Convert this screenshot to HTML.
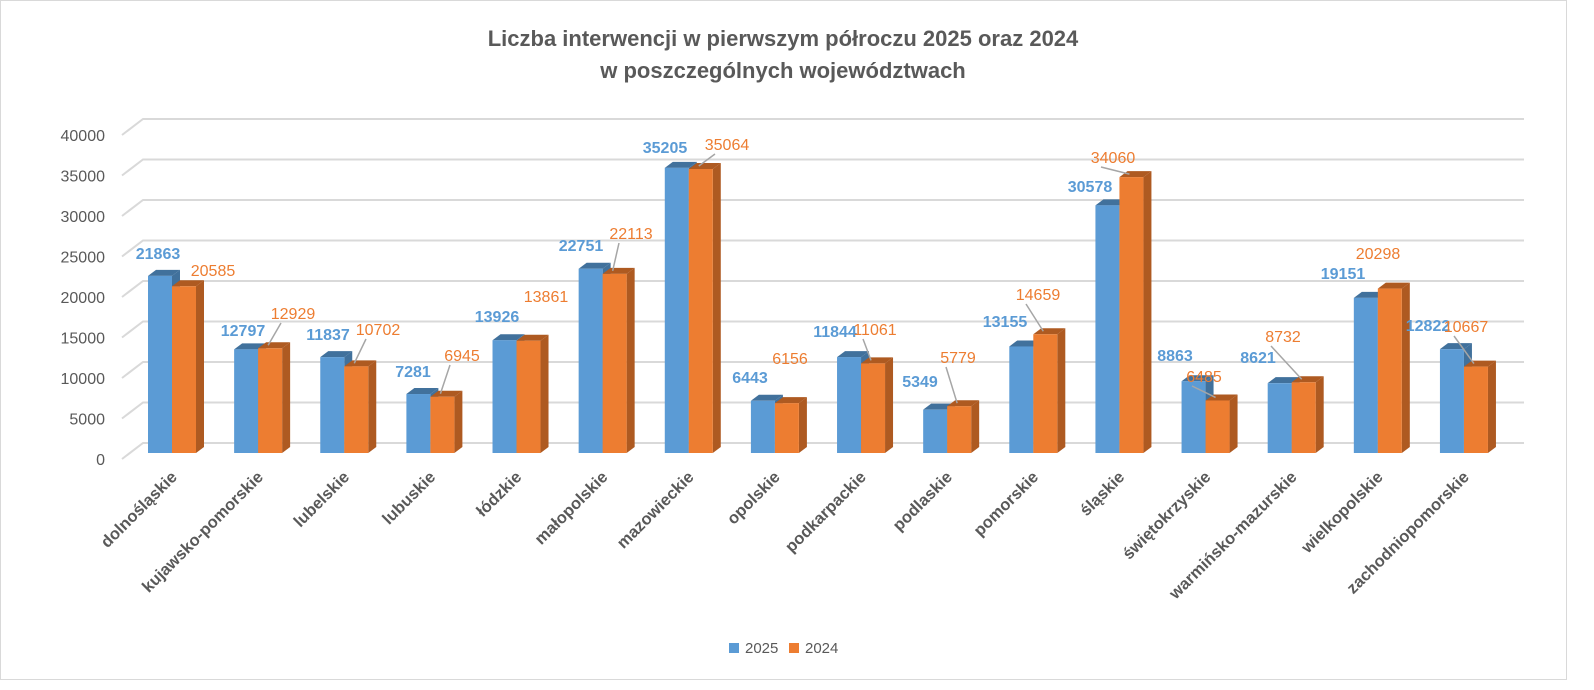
<!DOCTYPE html>
<html><head><meta charset="utf-8"><style>
html,body{margin:0;padding:0;background:#fff;overflow:hidden}
svg{display:block;font-family:"Liberation Sans",sans-serif}
</style></head><body>
<svg width="1594" height="690" viewBox="0 0 1594 690" xmlns="http://www.w3.org/2000/svg">
<rect x="0.5" y="0.5" width="1566" height="679" fill="#fff" stroke="#d9d9d9"/>
<text x="783" y="46" text-anchor="middle" font-size="22" font-weight="bold" fill="#595959">Liczba interwencji w pierwszym półroczu 2025 oraz 2024</text>
<text x="783" y="78" text-anchor="middle" font-size="22" font-weight="bold" fill="#595959">w poszczególnych województwach</text>
<g id="grid" stroke="#d9d9d9" stroke-width="2" fill="none"></g>
<g id="ylab" font-size="16" fill="#595959" text-anchor="end"></g>
<g id="bars"></g>
<g id="lines" stroke="#a6a6a6" stroke-width="1.5"></g>
<g id="lbl" font-size="16"></g>
<g id="cat" font-size="16.5" font-weight="bold" fill="#595959" text-anchor="end"></g>
<rect x="729" y="643" width="10" height="10" fill="#5b9bd5"/>
<text x="745" y="653" font-size="15" fill="#595959">2025</text>
<rect x="789" y="643" width="10" height="10" fill="#ed7d31"/>
<text x="805" y="653" font-size="15" fill="#595959">2024</text>
<script>
const ns="http://www.w3.org/2000/svg";
function el(p,t,a,txt){const e=document.createElementNS(ns,t);for(const k in a)e.setAttribute(k,a[k]);if(txt!=null)e.textContent=txt;document.getElementById(p).appendChild(e);return e;}
for(let i=0;i<=8;i++){const y=443-i*40.5;
 el('grid','polyline',{points:`122,${y+16} 143,${y} 1524,${y}`});
 el('ylab','text',{x:105,y:y+22},String(i*5000));}
const cats=["dolnośląskie","kujawsko-pomorskie","lubelskie","lubuskie","łódzkie","małopolskie","mazowieckie","opolskie","podkarpackie","podlaskie","pomorskie","śląskie","świętokrzyskie","warmińsko-mazurskie","wielkopolskie","zachodniopomorskie"];
const a=[21863,12797,11837,7281,13926,22751,35205,6443,11844,5349,13155,30578,8863,8621,19151,12822];
const b=[20585,12929,10702,6945,13861,22113,35064,6156,11061,5779,14659,34060,6485,8732,20298,10667];
const la=[[158,253],[243,330],[328,334],[413,371],[497,316],[581,245],[665,147],[750,377],[835,331],[920,381],[1005,321],[1090,186],[1175,355],[1258,357],[1343,273],[1428,325]];
const lb=[[213,270],[293,313],[378,329],[462,355],[546,296],[631,233],[727,144],[790,358],[875,329],[958,357],[1038,294],[1113,157],[1204,376],[1283,336],[1378,253],[1466,326]];
const lead=[0,1,1,1,0,1,1,0,1,1,1,1,1,1,0,1];
const base=453,k=0.0081,dx=8,dy=-6,w=24;
function bar(x,v,c,top,side){const y=base-v*k;
 el('bars','polygon',{points:`${x},${y} ${x+dx},${y+dy} ${x+w+dx},${y+dy} ${x+w},${y}`,fill:top});
 el('bars','polygon',{points:`${x+w},${y} ${x+w+dx},${y+dy} ${x+w+dx},${base+dy} ${x+w},${base}`,fill:side});
 el('bars','rect',{x:x,y:y,width:w,height:v*k,fill:c});return y;}
for(let i=0;i<16;i++){const x=148+i*86.13;
 bar(x,a[i],'#5b9bd5','#41719c','#41719c');
 const yb=bar(x+w,b[i],'#ed7d31','#ae5a21','#ae5a21');
 el('lbl','text',{x:la[i][0],y:la[i][1]+6,'text-anchor':'middle','font-weight':'bold',fill:'#5b9bd5'},String(a[i]));
 el('lbl','text',{x:lb[i][0],y:lb[i][1]+6,'text-anchor':'middle',fill:'#ed7d31'},String(b[i]));
 if(lead[i]) el('lines','line',{x1:lb[i][0]-12,y1:lb[i][1]+10,x2:x+w+10,y2:yb-3});
 const cx=x+w+12;
 el('cat','text',{x:0,y:0,transform:`translate(${cx-6},478) rotate(-45)`},cats[i]);}
</script>
</svg>
</body></html>
